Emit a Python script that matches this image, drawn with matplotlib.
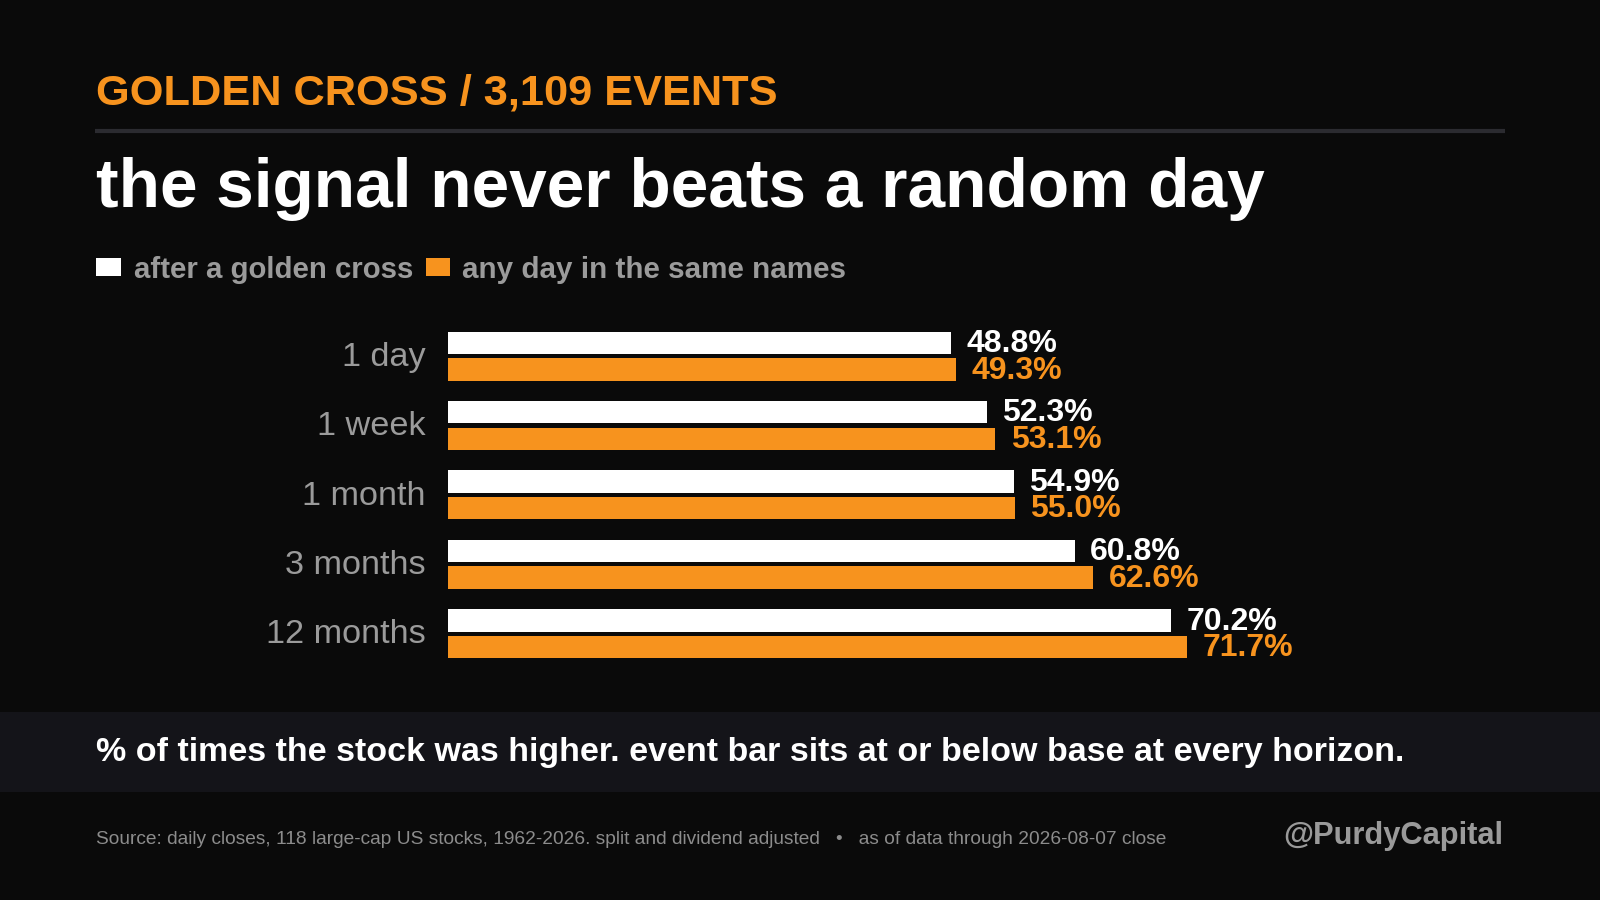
import matplotlib
matplotlib.use("Agg")
import matplotlib.pyplot as plt
from matplotlib.patches import Rectangle
from matplotlib.lines import Line2D

plt.rcParams['font.family'] = ['Liberation Sans', 'DejaVu Sans']

# ---- data ----
categories = ["1 day", "1 week", "1 month", "3 months", "12 months"]
event_vals = [48.8, 52.3, 54.9, 60.8, 70.2]
base_vals = [49.3, 53.1, 55.0, 62.6, 71.7]
event_label = "after a golden cross"
base_label = "any day in the same names"

BG = "#0a0a0a"
ORANGE = "#f7931e"
WHITE = "#ffffff"
GRAY = "#9b9b9b"
BAND = "#141419"

W, H = 1568.0, 882.0  # reference layout units
def fx(x): return x / W
def fy(y): return 1 - y / H
PX = 1600 / W * 0.72  # ref px -> points

fig = plt.figure(figsize=(16, 9), dpi=100, facecolor=BG)

# header
fig.text(fx(94), fy(102), "GOLDEN CROSS / 3,109 EVENTS", color=ORANGE,
         fontsize=31.2, fontweight='bold', va='baseline', ha='left')
fig.add_artist(Line2D([fx(93), fx(1475)], [fy(128.5), fy(128.5)], color="#2b2b30",
                      lw=3, solid_capstyle='butt'))
fig.text(fx(94), fy(203), "the signal never beats a random day", color=WHITE,
         fontsize=48.7, fontweight='bold', va='baseline', ha='left')

# legend
fig.add_artist(Rectangle((fx(94), fy(270)), fx(119) - fx(94), fy(253) - fy(270),
                         transform=fig.transFigure, color=WHITE, lw=0))
fig.text(fx(131), fy(272), event_label, color=GRAY, fontsize=21.2, fontweight='bold',
         va='baseline', ha='left')
fig.add_artist(Rectangle((fx(417), fy(270)), fx(441) - fx(417), fy(253) - fy(270),
                         transform=fig.transFigure, color=ORANGE, lw=0))
fig.text(fx(453), fy(272), base_label, color=GRAY, fontsize=21.3, fontweight='bold',
         va='baseline', ha='left')

# bars
ax = fig.add_axes([fx(439), fy(655), fx(1010), (655 - 315) / H])
ax.set_facecolor('none')
ax.set_xlim(0, 100)
ax.set_ylim(len(categories) - 0.5, -0.5)
ax.axis('off')
rowpx = 68.0
bh = 22.0 / rowpx
off = 13.0 / rowpx
for i, (c, e, b) in enumerate(zip(categories, event_vals, base_vals)):
    ax.barh(i - off, e, height=bh, color=WHITE, lw=0)
    ax.barh(i + off, b, height=bh, color=ORANGE, lw=0)
    ax.annotate(f"{e:.1f}%", xy=(e, i - off), xytext=(15 * PX, -9 * PX),
                textcoords='offset points', color=WHITE, fontsize=23,
                fontweight='bold', va='baseline', ha='left')
    ax.annotate(f"{b:.1f}%", xy=(b, i + off), xytext=(15 * PX, -9 * PX),
                textcoords='offset points', color=ORANGE, fontsize=23,
                fontweight='bold', va='baseline', ha='left')
    ax.annotate(c, xy=(0, i), xytext=(-22 * PX, -9.5 * PX), textcoords='offset points',
                color=GRAY, fontsize=24.7, va='baseline', ha='right')

# footer band
fig.add_artist(Rectangle((0, fy(776)), 1, fy(698) - fy(776), transform=fig.transFigure,
                         color=BAND, lw=0, zorder=0))
fig.text(fx(94), fy(746), "% of times the stock was higher. event bar sits at or below base at every horizon.",
         color=WHITE, fontsize=24.5, fontweight='bold', va='baseline', ha='left')

fig.text(fx(94), fy(827), "Source: daily closes, 118 large-cap US stocks, 1962-2026. split and dividend adjusted   \u2022   as of data through 2026-08-07 close",
         color="#8c8c8c", fontsize=13.8, va='baseline', ha='left')
fig.text(fx(1473), fy(827), "@PurdyCapital", color="#9a9a9a", fontsize=22.2,
         fontweight='bold', va='baseline', ha='right')

fig.savefig("out.png", dpi=100, facecolor=BG)
